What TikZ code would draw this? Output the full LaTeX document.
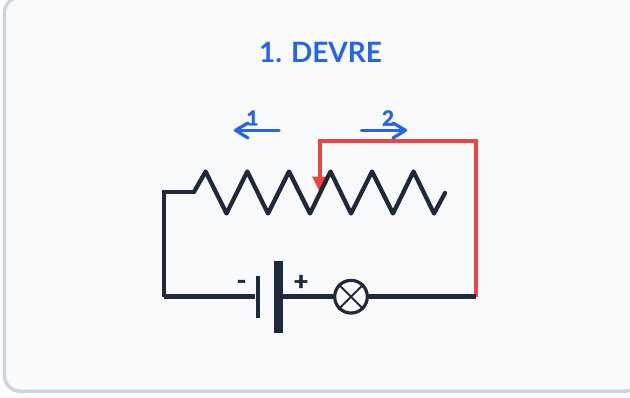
\documentclass[tikz,border=0pt]{standalone}
\usepackage{fontspec}
\setmainfont{Lato}
\newfontfamily\heavyfont[FakeBold=2]{Lato Bold}
\definecolor{cardbg}{HTML}{F8FAFC}
\definecolor{cardline}{HTML}{CBD5E1}
\definecolor{ink}{HTML}{1E293B}
\definecolor{accent}{HTML}{2563EB}
\definecolor{alert}{HTML}{EF4444}
\tikzset{
  wire/.style={draw=ink,line width=3.2pt,line join=miter},
  zig/.style={draw=ink,line width=3.2pt,line join=round,line cap=round},
  tap/.style={draw=alert,line width=3.2pt,line join=miter},
  dirn/.style={draw=accent,line width=2.4pt,line cap=round,line join=round},
  plate/.style={fill=ink,draw=none,inner sep=0pt,minimum width=#1*.75pt},
  tiplabel/.style={text=accent,font=\fontsize{15.5}{15.5}\heavyfont,inner sep=0pt},
  signlabel/.style={text=ink,font=\fontsize{19}{19}\heavyfont,inner sep=0pt},
}
\begin{document}
\begin{tikzpicture}[x=.75pt,y=-.75pt]
\useasboundingbox (0,0) rectangle (630,397);
\draw[fill=cardbg,draw=cardline,line width=2.6pt,rounded corners=12pt] (4.3,-3) rectangle (640,391.3);
\node[text=accent,font=\fontsize{21}{21}\selectfont\bfseries,inner sep=0pt] (title) at (320.5,52.5) {1. DEVRE};
% named points
\coordinate (bl) at (164,296.5);
\coordinate (tl) at (164,192);
\coordinate (zs) at (194,192);
\coordinate (ze) at (445,193);
\coordinate (br) at (476,296.5);
\coordinate (tr) at (476,141);
\coordinate (tk) at (320,141);
\coordinate (tip) at (320,192.5);
\coordinate (tipb) at (320,178);
% red tap
\draw[tap] (br) -- (tr) -- (tk) -- (tipb);
\fill[alert] (312,176.5) -- (328,176.5) -- (tip) -- cycle;
% resistor
\draw[wire] (bl) -- (tl) -- (zs);
\draw[zig] (zs) -- (205.6,171.5) -- (226.5,213.5) -- (247.3,171.5) -- (268,213.5) -- (289,171.5) -- (310,213.5) -- (330.5,171.5) -- (351,213.5) -- (372,171.5) -- (393,213.5) -- (413.5,171.5) -- (434,213.5) -- (ze);
% battery
\node[plate=4,minimum height=31.3pt] (neg) at (257.5,296.8) {};
\node[plate=8.5,minimum height=54.4pt] (pos) at (278.5,296.8) {};
% lamp
\node[circle,draw=ink,fill=white,line width=2.4pt,minimum size=24.5pt,inner sep=0pt] (lamp) at (351,296.7) {};
\draw[draw=ink,line width=1.5pt] (lamp.north west) -- (lamp.south east);
\draw[draw=ink,line width=1.5pt] (lamp.north east) -- (lamp.south west);
% lower wires
\draw[wire] (bl) -- (neg.west |- bl);
\draw[wire] (pos.east |- bl) -- (lamp.west |- bl);
\draw[wire] (lamp.east |- bl) -- (br);
\node[signlabel] (minus) at (241.5,284.5) {-};
\node[signlabel] (plus) at (301,282.5) {+};
% direction arrows
\coordinate (a1s) at (279,130.3);
\coordinate (a1e) at (235.5,130.3);
\coordinate (a2s) at (361.5,130.3);
\coordinate (a2e) at (405.5,130.3);
\draw[dirn] (a1s) -- (a1e);
\draw[dirn] (248,123) -- (a1e) -- (248,138);
\draw[dirn] (a2s) -- (a2e);
\draw[dirn] (393,123) -- (a2e) -- (393,138);
\node[tiplabel] (n1) at (252.5,118) {1};
\node[tiplabel] (n2) at (388,118) {2};
\end{tikzpicture}
\end{document}
